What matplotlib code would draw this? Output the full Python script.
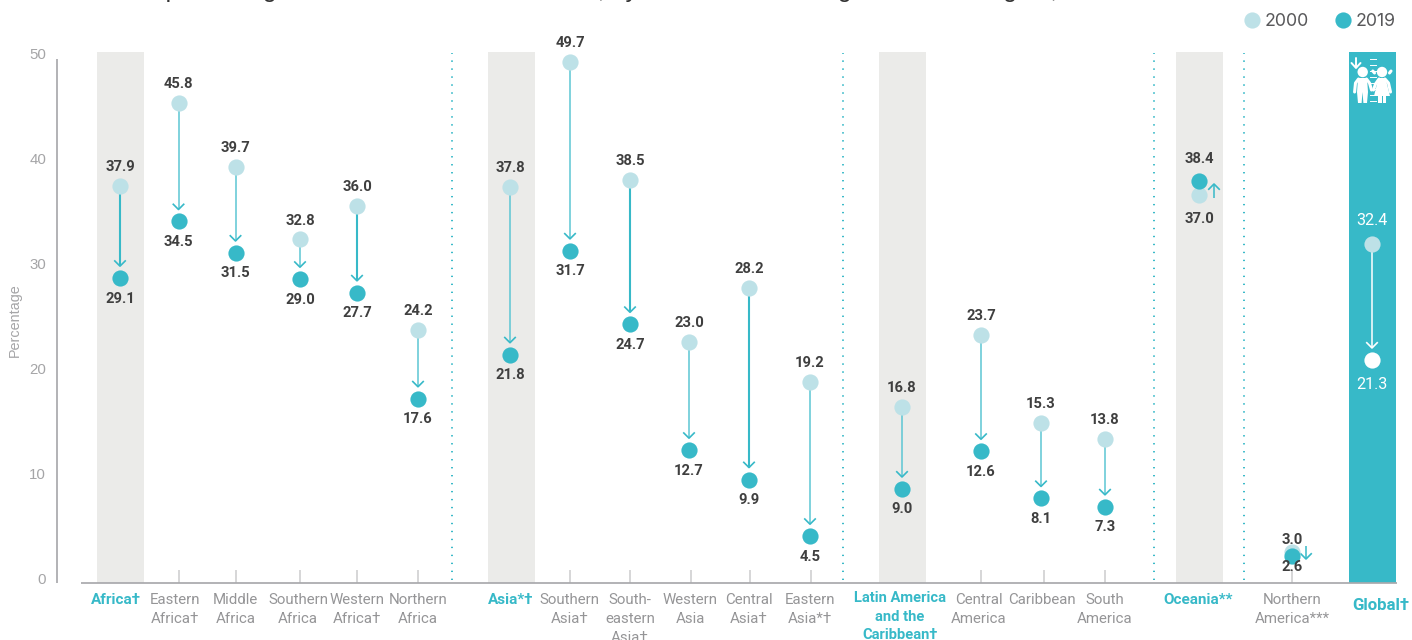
import matplotlib
matplotlib.use("Agg")
import matplotlib.pyplot as plt
from matplotlib.patches import Rectangle, Polygon, Ellipse

# ---- data ----
labels = ["Africa†", "Eastern\nAfrica†", "Middle\nAfrica", "Southern\nAfrica", "Western\nAfrica†", "Northern\nAfrica",
          "Asia*†", "Southern\nAsia†", "South-\neastern\nAsia†", "Western\nAsia", "Central\nAsia†", "Eastern\nAsia*†",
          "Latin America\nand the\nCaribbean†", "Central\nAmerica", "Caribbean", "South\nAmerica",
          "Oceania**", "Northern\nAmerica***", "Global†"]
v2000 = [37.9, 45.8, 39.7, 32.8, 36.0, 24.2, 37.8, 49.7, 38.5, 23.0, 28.2, 19.2, 16.8, 23.7, 15.3, 13.8, 37.0, 3.0, 32.4]
v2019 = [29.1, 34.5, 31.5, 29.0, 27.7, 17.6, 21.8, 31.7, 24.7, 12.7, 9.9, 4.5, 9.0, 12.6, 8.1, 7.3, 38.4, 2.6, 21.3]
regions = ["Africa†", "Asia*†", "Latin America\nand the\nCaribbean†", "Oceania**"]
thick = ["Africa†", "Western\nAfrica†", "South-\neastern\nAsia†", "Central\nAsia†"]
yticks = [0, 10, 20, 30, 40, 50]
title = "Estimated percentage of children who are stunted, by United Nations region and subregion, 2000 and 2019"

# ---- layout (pixels) ----
W, H = 1412, 640
xpos = [120, 178.5, 235.5, 300, 357, 418, 510, 570, 630, 689, 749, 810, 902, 981, 1041, 1105, 1199, 1292, 1372]
label_x = [116, 175, 235.5, 298, 357, 418, 511, 569.5, 630, 690, 749, 810, 900, 979, 1042, 1105, 1198, 1292, 1381]
tickx = [178.7, 235.7, 300, 356.7, 417.7, 570, 630, 690.7, 750, 810.7, 980.7, 1044, 1105, 1292]
dotted = [452, 843.3, 1154, 1244.3]
Y0 = 583.4
K = 10.49
LIGHT, TEAL, GREY, AXIS = '#bde1e7', '#37b9c8', '#959597', '#a9a9ad'
THIN = '#5cc6d3'
DARK = '#3f3f3f'
VALF = 'Roboto'

fig = plt.figure(figsize=(W / 100, H / 100), dpi=100)
ax = fig.add_axes([0, 0, 1, 1])
ax.set_xlim(0, W)
ax.set_ylim((Y0 - H) / K, Y0 / K)   # data units are percent
ax.axis('off')

def yd(px):
    return (Y0 - px) / K

def band(x0, color):
    ax.add_patch(Rectangle((x0, 0), 47, yd(52), fc=color, ec='none', zorder=1))

for x0 in (97, 488, 879, 1176):
    band(x0, '#ebebe9')
band(1349, TEAL)

ax.plot([57, 57], [0, yd(59)], color=AXIS, lw=1.25, zorder=2, solid_capstyle='butt')
ax.plot([81, 1397], [yd(582.6), yd(582.6)], color=AXIS, lw=1.25, zorder=2, solid_capstyle='butt')
for x in tickx:
    ax.plot([x, x], [0, yd(570)], color='#cfcfd1', lw=1.2, zorder=1.5, solid_capstyle='butt')
for x in dotted:
    ax.plot([x, x], [yd(580), yd(53)], color=TEAL, lw=1.4, ls=(0, (0.7, 3.4)), zorder=2)

for t in yticks:
    ax.text(46, t + 0.36, str(t), ha='right', va='center', fontsize=10.8, color='#a5a5a7', family='Liberation Sans')
ax.text(15, yd(320), 'Percentage', rotation=90, ha='center', va='center', fontsize=10.4, color='#a5a5a7', family='Liberation Sans')

# title: cut off by the top edge, as in the reference
ax.text(48, yd(-3.5), title, fontsize=18, color='#333333', family='Liberation Sans', va='baseline')

def arrow(x, y_tail, y_tip, color, lw, head_lw=1.2):
    """y values in percent"""
    ax.plot([x, x], [y_tail, y_tip], color=color, lw=lw, zorder=3, solid_capstyle='butt')
    d = 5.2 / K * (1 if y_tail > y_tip else -1)
    ax.plot([x - 5.2, x, x + 5.2], [y_tip + d, y_tip, y_tip + d], color=TEAL if color != 'white' else color,
            lw=head_lw, zorder=3)

DOT = (16.2 * 0.72) ** 2
for x, lx, a, b, lab in zip(xpos, label_x, v2000, v2019, labels):
    is_global = lab.startswith('Global')
    is_region = lab in regions
    dot_b = 'white' if is_global else TEAL
    if abs(a - b) > 2:
        if is_global:
            arrow(x, a, b + 12 / K, 'white', 1.1)
        elif lab in thick:
            arrow(x, a, b + 12 / K, TEAL, 1.5)
        else:
            arrow(x, a, b + 12 / K, THIN, 1.1)
    ax.scatter([x], [a], s=DOT, color=LIGHT, zorder=4, linewidths=0)
    ax.scatter([x], [b], s=DOT, color=dot_b, zorder=5, linewidths=0)
    # value labels
    tc = 'white' if is_global else DARK
    fw = 'normal' if is_global else 'bold'
    fs = 11.6 if is_global else 10.6
    if is_global:
        ta, tb = a + 2.2, b - 2.3
    elif lab.startswith('Northern\nAmerica'):
        ta, tb = 4.15, 1.55
    elif a >= b:
        ta, tb = a + 1.78, b - 1.95
    else:
        ta, tb = a - 2.25, b + 2.1
    ax.text(x, ta, f'{a:.1f}', ha='center', va='center', fontsize=fs, color=tc, fontweight=fw, family=VALF, zorder=6)
    ax.text(x, tb, f'{b:.1f}', ha='center', va='center', fontsize=fs, color=tc, fontweight=fw, family=VALF, zorder=6)
    # category labels
    if lab.startswith('Latin'):
        ax.text(lx, yd(591), lab, ha='center', va='top', fontsize=10.6, fontweight='bold', color=TEAL,
                family=VALF, linespacing=1.42)
    elif is_region or is_global:
        ax.text(lx, yd(605 if is_global else 599.5), lab, ha='center', va='center', fontsize=12.2 if is_global else 11,
                fontweight='bold', color=TEAL, family=VALF)
    else:
        ax.text(lx, yd(593.5), lab, ha='center', va='top', fontsize=10.8, color=GREY, family=VALF, linespacing=1.45)

# short side arrows for the small changes
arrow(1214, yd(198), yd(184), TEAL, 1.1)
arrow(1306, yd(546), yd(559), TEAL, 1.1)

# legend
ax.scatter([1252], [yd(20)], s=DOT, color=LIGHT, linewidths=0)
ax.scatter([1343], [yd(20)], s=DOT, color=TEAL, linewidths=0)
ax.text(1264.5, yd(21), '2000', fontsize=12.8, color='#58585a', va='center', family='Inter')
ax.text(1356, yd(21), '2019', fontsize=12.8, color='#58585a', va='center', family='Inter')

# icon: two children holding hands beside a height scale
def px(x, y):
    return (x, yd(y))
def poly(points):
    ax.add_patch(Polygon([px(*p) for p in points], closed=True, fc='white', ec='none', zorder=7))
def blob(x, y, r):
    ax.add_patch(Ellipse(px(x, y), 2 * r, 2 * r / K, fc='white', ec='none', zorder=7))
def stroke(pts, lw=2.2):
    ax.plot([p[0] for p in pts], [yd(p[1]) for p in pts], color='white', lw=lw, zorder=7,
            solid_capstyle='round', solid_joinstyle='round')

for yy in range(59, 104, 6):
    ax.plot([1370, 1376], [yd(yy), yd(yy)], color='white', lw=0.7, zorder=6.5)
blob(1362.7, 72, 5.2)
blob(1382, 72, 5.2)
stroke([(1372.8, 71), (1374.5, 73)], 2.2)
stroke([(1391, 71), (1389.5, 73)], 2.2)
# left child
poly([(1358, 78), (1367, 78), (1368, 92), (1367, 103), (1363.4, 103), (1362.5, 92), (1361.6, 103), (1358, 103), (1357, 92)])
stroke([(1358.5, 79), (1355.5, 83), (1354.6, 92)])
stroke([(1366.5, 79), (1369.5, 83), (1371.5, 90)])
# right child
poly([(1378.5, 78), (1385.5, 78), (1390, 96), (1374, 96)])
poly([(1378, 95), (1381.5, 95), (1381.5, 103), (1378, 103)])
poly([(1382.8, 95), (1386.3, 95), (1386.3, 103), (1382.8, 103)])
stroke([(1379, 79), (1375.5, 84), (1373.5, 90)])
stroke([(1385, 79), (1388.5, 83), (1390.5, 92)])
stroke([(1356, 58), (1356, 67)], 1.4)
stroke([(1351.5, 63), (1356, 68), (1360.5, 63)], 1.4)

fig.savefig('out.png', dpi=100)
